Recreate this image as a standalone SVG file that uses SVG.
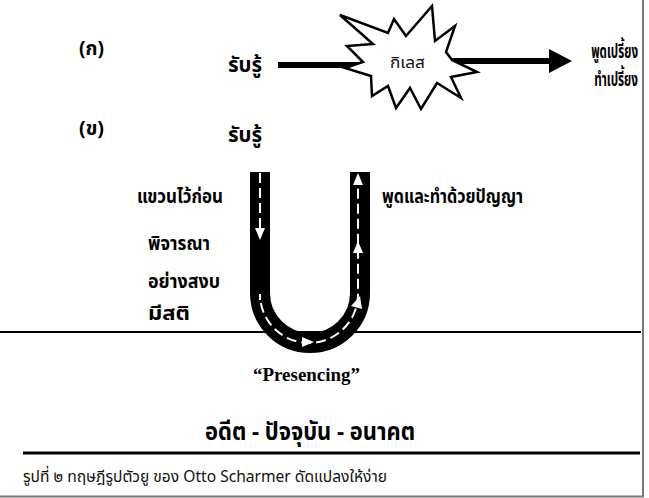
<svg xmlns="http://www.w3.org/2000/svg" width="649" height="498" viewBox="0 0 649 498">
<style>
.th{font-family:"Noto Sans Thai","Noto Sans","DejaVu Sans",sans-serif;fill:#111}
.thb{font-family:"Noto Sans Thai","Noto Sans","DejaVu Sans",sans-serif;font-weight:bold;fill:#000}
.ser{font-family:"Liberation Serif",serif;font-weight:bold;fill:#000}
.dash{fill:none;stroke:#fff;stroke-width:2;stroke-dasharray:10 5}
.wh{fill:#fff}
</style>
<rect width="649" height="498" fill="#fff"/>
<g id="frame">
<line x1="643" y1="0" x2="643" y2="497" stroke="#777" stroke-width="2"/>
<line x1="0" y1="496.5" x2="644" y2="496.5" stroke="#777" stroke-width="2"/>
</g>
<g id="connectors">
<line x1="278" y1="65" x2="368" y2="65" stroke="#000" stroke-width="6"/>
<line x1="445" y1="61" x2="552" y2="61" stroke="#000" stroke-width="6"/>
<polygon points="549,49 572,61 549,73" fill="#000"/>
<line x1="0" y1="332" x2="641" y2="332" stroke="#000" stroke-width="2"/>
</g>
<g id="kilet">
<polygon points="340,15 388,33 394,19 406,36 432,6 435,41 455,26 446,52 452,60 477,72 451,77 461,98 437,83 421,109 410,88 396,108 388,86 372,96 371,76 345,68 363,62 347,46 373,44" fill="#fff" stroke="#000" stroke-width="2.5" stroke-linejoin="miter"/>
<text class="th" x="390" y="68" font-size="16" textLength="35" lengthAdjust="spacingAndGlyphs">กิเลส</text>
</g>
<g id="label-a">
<text class="thb" x="79" y="55" font-size="19" textLength="25" lengthAdjust="spacingAndGlyphs">(ก)</text>
<text class="thb" x="228" y="72" font-size="21" textLength="34" lengthAdjust="spacingAndGlyphs">รับรู้</text>
</g>
<g id="out">
<text class="thb" transform="translate(638,58) scale(0.6,1)" x="0" y="0" font-size="20" text-anchor="end" textLength="78" lengthAdjust="spacingAndGlyphs">พูดเปรี้ยง</text>
<text class="thb" transform="translate(638,86) scale(0.6,1)" x="0" y="0" font-size="20" text-anchor="end" textLength="73" lengthAdjust="spacingAndGlyphs">ทำเปรี้ยง</text>
</g>
<g id="label-b">
<text class="thb" x="79" y="135" font-size="19" textLength="25" lengthAdjust="spacingAndGlyphs">(ข)</text>
<text class="thb" x="228" y="142" font-size="21" textLength="34" lengthAdjust="spacingAndGlyphs">รับรู้</text>
</g>
<g id="u-shape">
<path d="M260,172 V293 A50,50 0 0 0 360,293 V172" fill="none" stroke="#000" stroke-width="20"/>
<path class="dash" d="M260,173 V232"/>
<polygon class="wh" points="255,228 265,228 260,240"/>
<path class="dash" d="M260,300 V294 A49,49 0 0 0 358,294 V182"/>
<polygon class="wh" points="302,337 314,342 302,347"/>
<polygon class="wh" points="351,306 360,296 362,309"/>
<polygon class="wh" points="353,253 358,241 363,253"/>
<polygon class="wh" points="353,185 358,173 363,185"/>
</g>
<g id="left-labels">
<text class="thb" x="137" y="203" font-size="19" textLength="86" lengthAdjust="spacingAndGlyphs">แขวนไว้ก่อน</text>
<text class="thb" x="148" y="250" font-size="19" textLength="62" lengthAdjust="spacingAndGlyphs">พิจารณา</text>
<text class="thb" x="148" y="288" font-size="19" textLength="72" lengthAdjust="spacingAndGlyphs">อย่างสงบ</text>
<text class="thb" x="148" y="320" font-size="19" textLength="42" lengthAdjust="spacingAndGlyphs">มีสติ</text>
</g>
<g id="right-label">
<text class="thb" x="382" y="203" font-size="19" textLength="141" lengthAdjust="spacingAndGlyphs">พูดและทำด้วยปัญญา</text>
</g>
<g id="presencing">
<text class="ser" x="253" y="381" font-size="18" textLength="107" lengthAdjust="spacingAndGlyphs">“Presencing”</text>
</g>
<g id="timeline">
<text class="thb" x="205" y="440" font-size="24" textLength="210" lengthAdjust="spacingAndGlyphs">อดีต - ปัจจุบัน - อนาคต</text>
<line x1="23" y1="453" x2="640" y2="453" stroke="#000" stroke-width="3"/>
</g>
<g id="caption">
<text class="th" x="23" y="482" font-size="16" textLength="364" lengthAdjust="spacingAndGlyphs">รูปที่ ๒ ทฤษฎีรูปตัวยู ของ Otto Scharmer ดัดแปลงให้ง่าย</text>
</g>
</svg>
